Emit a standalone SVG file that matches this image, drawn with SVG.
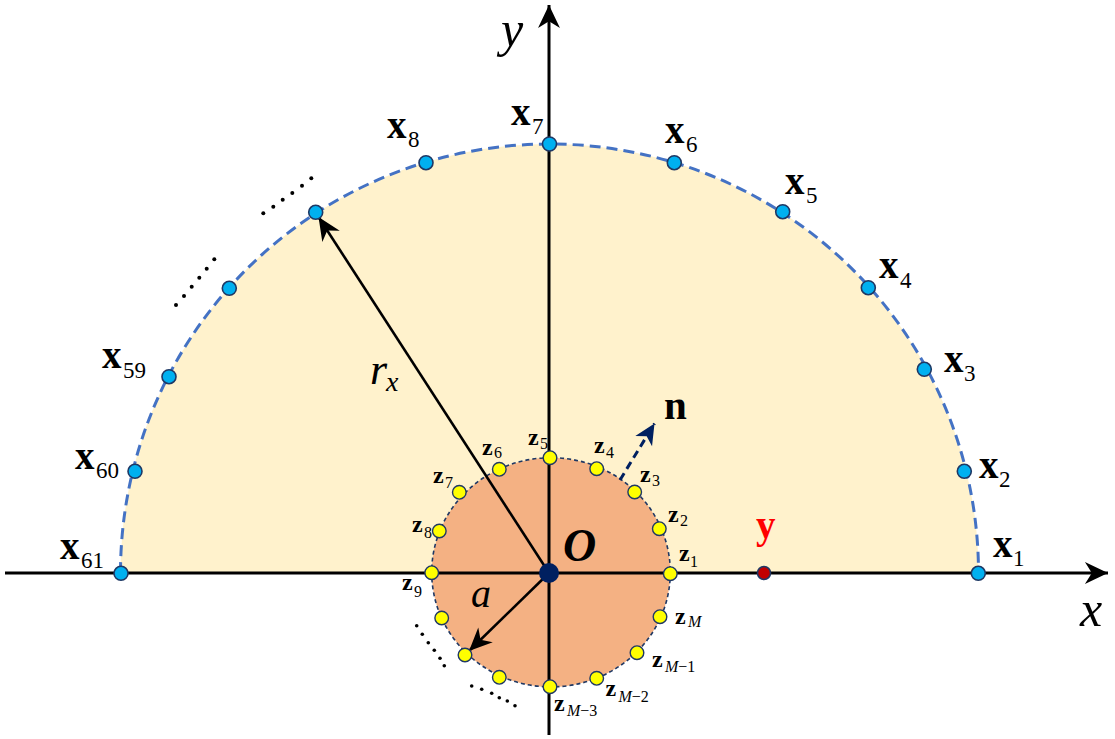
<svg xmlns="http://www.w3.org/2000/svg" width="1115" height="739" viewBox="0 0 1115 739">
<defs>
<style>
.lbl{font-family:"Liberation Serif","Times New Roman",serif;font-weight:bold;font-size:39px;fill:#000}
.sub{font-family:"Liberation Serif","Times New Roman",serif;font-weight:normal;font-size:23px}
.zl{font-family:"Liberation Serif","Times New Roman",serif;font-weight:bold;font-size:24px;fill:#000}
.zs{font-family:"Liberation Serif","Times New Roman",serif;font-weight:normal;font-size:16px}
.it{font-family:"Liberation Serif","Times New Roman",serif;font-style:italic}
.xp{fill:#00B0F0;stroke:#1F3864;stroke-width:1.6}
.zp{fill:#FFFF00;stroke:#1F3864;stroke-width:1.4}
.dot{fill:#000}
</style>
<marker id="axh" markerUnits="userSpaceOnUse" markerWidth="30" markerHeight="30" viewBox="-24 -12 26 24" refX="0" refY="0" orient="auto">
<path d="M0,0 L-20,-9.5 L-14,0 L-20,9.5 Z" fill="#000"/>
</marker>
<marker id="arh" markerUnits="userSpaceOnUse" markerWidth="30" markerHeight="30" viewBox="-24 -12 26 24" refX="0" refY="0" orient="auto">
<path d="M0,0 L-20,-9 L-14,0 L-20,9 Z" fill="#000"/>
</marker>
<marker id="nh" markerUnits="userSpaceOnUse" markerWidth="30" markerHeight="30" viewBox="-24 -12 26 24" refX="0" refY="0" orient="auto">
<path d="M0,0 L-18,-8.5 L-13,0 L-18,8.5 Z" fill="#002060"/>
</marker>
</defs>
<rect width="1115" height="739" fill="#fff"/>
<g id="region">
<path d="M120.5,573 A429,429 0 0 1 978.5,573 Z" fill="#FFF2CC"/>
<path d="M120.5,573 A429,429 0 0 1 978.5,573" fill="none" stroke="#4472C4" stroke-width="3" stroke-dasharray="11,6"/>
</g>
<g id="scatterer">
<ellipse cx="551" cy="572.3" rx="119.3" ry="114.6" fill="#F4B183" stroke="#1F3864" stroke-width="1.6" stroke-dasharray="4,3"/>
</g>
<g id="connectors">
<line x1="5" y1="573" x2="1108" y2="573" stroke="#000" stroke-width="3" marker-end="url(#axh)"/>
<line x1="549" y1="735" x2="549" y2="5" stroke="#000" stroke-width="3" marker-end="url(#axh)"/>
<line x1="549" y1="573" x2="318.5" y2="217" stroke="#000" stroke-width="2.6" marker-end="url(#arh)"/>
<line x1="549" y1="573" x2="469" y2="651" stroke="#000" stroke-width="2.6" marker-end="url(#arh)"/>
<line x1="620" y1="480" x2="654.5" y2="423.5" stroke="#002060" stroke-width="3" stroke-dasharray="8,5" marker-end="url(#nh)"/>
</g>
<g id="ellipsis">
<circle class="dot" cx="263.3" cy="213.3" r="2"/><circle class="dot" cx="273.3" cy="206.7" r="2"/><circle class="dot" cx="282.7" cy="199.7" r="2"/><circle class="dot" cx="292.3" cy="193" r="2"/><circle class="dot" cx="302" cy="185.7" r="2"/><circle class="dot" cx="311.3" cy="178.3" r="2"/>
<circle class="dot" cx="176" cy="305" r="2"/><circle class="dot" cx="184" cy="296" r="2"/><circle class="dot" cx="191.7" cy="286.7" r="2"/><circle class="dot" cx="199.3" cy="277.7" r="2"/><circle class="dot" cx="206.7" cy="268.7" r="2"/><circle class="dot" cx="214.3" cy="259.3" r="2"/>
<circle class="dot" cx="416.7" cy="625.7" r="1.8"/><circle class="dot" cx="422.3" cy="634.3" r="1.8"/><circle class="dot" cx="428.3" cy="642.7" r="1.8"/><circle class="dot" cx="434.3" cy="650.3" r="1.8"/><circle class="dot" cx="440" cy="658.3" r="1.8"/><circle class="dot" cx="444.3" cy="665.7" r="1.8"/>
<circle class="dot" cx="471.7" cy="686" r="1.8"/><circle class="dot" cx="481.7" cy="689.3" r="1.8"/><circle class="dot" cx="491.7" cy="693.3" r="1.8"/><circle class="dot" cx="499.3" cy="697.7" r="1.8"/><circle class="dot" cx="507.3" cy="701" r="1.8"/><circle class="dot" cx="515" cy="705.7" r="1.8"/>
</g>
<g id="origin">
<circle cx="549" cy="573" r="10" fill="#002060"/>
<text x="563" y="561" font-family="Liberation Serif, serif" font-weight="bold" font-style="italic" font-size="46">O</text>
</g>
<g id="x1"><circle class="xp" cx="978.3" cy="573.3" r="7"/><text class="lbl" x="993" y="557">x<tspan class="sub" x="1013" y="566">1</tspan></text></g>
<g id="x2"><circle class="xp" cx="964.3" cy="471.3" r="7"/><text class="lbl" x="979" y="478">x<tspan class="sub" x="999" y="487">2</tspan></text></g>
<g id="x3"><circle class="xp" cx="924.3" cy="369.3" r="7"/><text class="lbl" x="944" y="372">x<tspan class="sub" x="964" y="381">3</tspan></text></g>
<g id="x4"><circle class="xp" cx="868.3" cy="287.7" r="7"/><text class="lbl" x="879" y="278">x<tspan class="sub" x="900" y="288">4</tspan></text></g>
<g id="x5"><circle class="xp" cx="782.7" cy="211.7" r="7"/><text class="lbl" x="785" y="194">x<tspan class="sub" x="806" y="203">5</tspan></text></g>
<g id="x6"><circle class="xp" cx="674.3" cy="162.7" r="7"/><text class="lbl" x="665" y="143">x<tspan class="sub" x="686" y="152">6</tspan></text></g>
<g id="x7"><circle class="xp" cx="549.5" cy="144" r="7"/><text class="lbl" x="511" y="125">x<tspan class="sub" x="532" y="134">7</tspan></text></g>
<g id="x8"><circle class="xp" cx="426" cy="162.7" r="7"/><text class="lbl" x="387" y="138">x<tspan class="sub" x="408" y="147">8</tspan></text></g>
<g id="xk"><circle class="xp" cx="315.7" cy="212.3" r="7"/></g>
<g id="xk2"><circle class="xp" cx="229.3" cy="288.3" r="7"/></g>
<g id="x59"><circle class="xp" cx="169" cy="376.7" r="7"/><text class="lbl" x="102" y="368">x<tspan class="sub" x="123" y="378">59</tspan></text></g>
<g id="x60"><circle class="xp" cx="135" cy="471.3" r="7"/><text class="lbl" x="75" y="469">x<tspan class="sub" x="96" y="478">60</tspan></text></g>
<g id="x61"><circle class="xp" cx="121" cy="573.3" r="7"/><text class="lbl" x="60" y="559">x<tspan class="sub" x="81" y="568">61</tspan></text></g>
<g id="z1"><circle class="zp" cx="670.3" cy="573.7" r="6.8"/><text class="zl" x="679" y="561">z<tspan class="zs" x="690" y="567">1</tspan></text></g>
<g id="z2"><circle class="zp" cx="659.3" cy="528.7" r="6.8"/><text class="zl" x="668" y="522">z<tspan class="zs" x="680" y="526">2</tspan></text></g>
<g id="z3"><circle class="zp" cx="634.7" cy="492" r="6.8"/><text class="zl" x="640" y="482">z<tspan class="zs" x="652" y="486">3</tspan></text></g>
<g id="z4"><circle class="zp" cx="596.7" cy="468.7" r="6.8"/><text class="zl" x="594" y="453">z<tspan class="zs" x="606" y="458">4</tspan></text></g>
<g id="z5"><circle class="zp" cx="550" cy="457.7" r="6.8"/><text class="zl" x="528" y="445">z<tspan class="zs" x="540" y="449">5</tspan></text></g>
<g id="z6"><circle class="zp" cx="499.3" cy="469.3" r="6.8"/><text class="zl" x="482" y="455">z<tspan class="zs" x="494" y="458">6</tspan></text></g>
<g id="z7"><circle class="zp" cx="459.3" cy="492.3" r="6.8"/><text class="zl" x="433" y="483">z<tspan class="zs" x="445" y="488">7</tspan></text></g>
<g id="z8"><circle class="zp" cx="439.3" cy="531" r="6.8"/><text class="zl" x="412" y="532">z<tspan class="zs" x="424" y="538">8</tspan></text></g>
<g id="z9"><circle class="zp" cx="431.7" cy="572.7" r="6.8"/><text class="zl" x="402" y="590">z<tspan class="zs" x="414" y="597">9</tspan></text></g>
<g id="z10"><circle class="zp" cx="441.7" cy="618" r="6.8"/></g>
<g id="z11"><circle class="zp" cx="465" cy="655" r="6.8"/></g>
<g id="z12"><circle class="zp" cx="499.3" cy="677.3" r="6.8"/></g>
<g id="zM3"><circle class="zp" cx="550" cy="686.7" r="6.8"/><text class="zl" x="554" y="711">z<tspan class="zs" x="567" y="716"><tspan class="it">M</tspan>−3</tspan></text></g>
<g id="zM2"><circle class="zp" cx="596.7" cy="678.3" r="6.8"/><text class="zl" x="605.5" y="696">z<tspan class="zs" x="618.5" y="702"><tspan class="it">M</tspan>−2</tspan></text></g>
<g id="zM1"><circle class="zp" cx="637" cy="652.7" r="6.8"/><text class="zl" x="652" y="667">z<tspan class="zs" x="665" y="672"><tspan class="it">M</tspan>−1</tspan></text></g>
<g id="zM"><circle class="zp" cx="660" cy="616.7" r="6.8"/><text class="zl" x="675" y="624">z<tspan class="zs it" x="688" y="627">M</tspan></text></g>
<g id="ypt"><circle cx="764" cy="573" r="6.5" fill="#C00000" stroke="#1F3864" stroke-width="1.6"/><text x="756" y="538" font-family="Liberation Serif, serif" font-weight="bold" font-size="39" fill="#FF0000">y</text></g>
<g id="labels">
<text class="it" x="370" y="384" font-size="44">r<tspan x="386" y="391" font-size="28">x</tspan></text>
<text class="it" x="471" y="607" font-size="40">a</text>
<text x="664" y="419" font-family="Liberation Serif, serif" font-weight="bold" font-size="41">n</text>
<text class="it" x="501" y="46" font-size="50">y</text>
<text class="it" x="1080" y="626" font-size="50">x</text>
</g>
</svg>
